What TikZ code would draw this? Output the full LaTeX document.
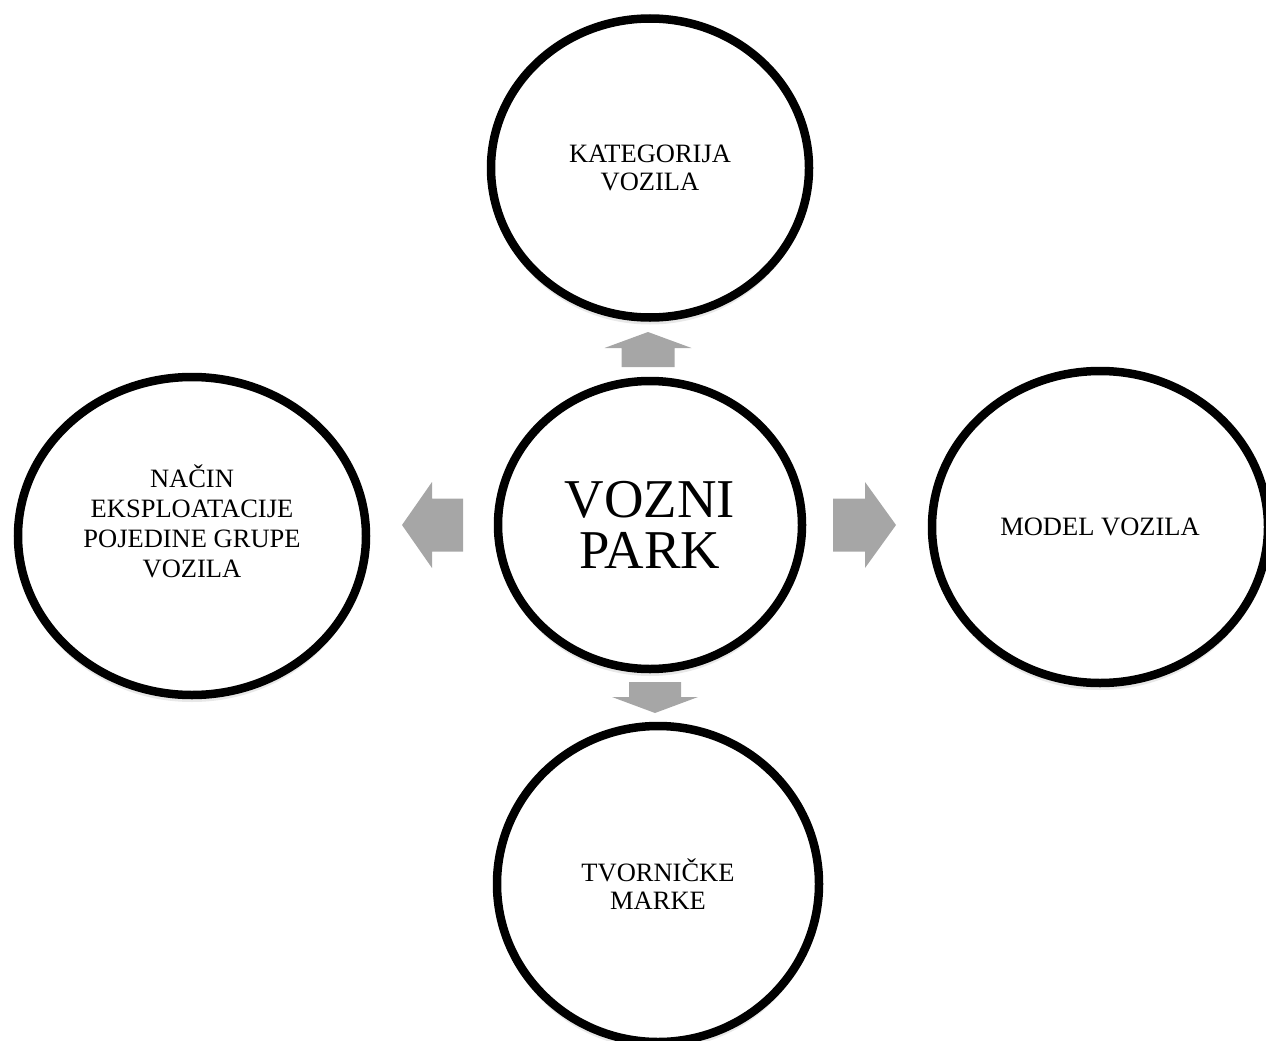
\documentclass[tikz,border=0pt]{standalone}
\usepackage{fontspec}
\setmainfont{Liberation Serif}
\usetikzlibrary{shapes.geometric,shadows}
\definecolor{arrowgray}{HTML}{A6A6A6}
\begin{document}
\begin{tikzpicture}[x=1pt,y=-1pt,
  bubble/.style={ellipse, draw=black, line width=8.5pt, fill=white, inner sep=0pt,
    align=center, font=\fontsize{26.5}{28}\selectfont,
    drop shadow={opacity=0.18, shadow xshift=0pt, shadow yshift=-7pt}},
  labeltext/.style={align=center, inner sep=0pt, font=\fontsize{26.5}{30}\selectfont},
  bigtext/.style={font=\fontsize{54.7}{51}\selectfont},
  arrowfill/.style={fill=arrowgray}]
\useasboundingbox (0,0) rectangle (1266,1041);
\clip (0,0) rectangle (1266,1041);
% ellipses (outer radius = size/2 + 4)
\node[bubble, minimum width=318pt, minimum height=299pt] (top) at (650,168) {KATEGORIJA\\VOZILA};
\node[bubble, minimum width=348pt, minimum height=318pt] (left) at (192,536) {};
\node[labeltext] (lefttext) at (192,521) {NAČIN\\EKSPLOATACIJE\\POJEDINE GRUPE\\VOZILA};
\node[bubble, minimum width=336pt, minimum height=312pt] (right) at (1100,527) {MODEL VOZILA};
\node[bubble, minimum width=322pt, minimum height=316pt] (bottom) at (658,884) {TVORNIČKE\\MARKE};
\node[bubble, bigtext, minimum width=304pt, minimum height=288pt] (center) at (650,525) {VOZNI\\PARK};
% arrows
\fill[arrowfill, shift={(648,332)}] (0,0) -- (43.5,16) -- (26.5,16) -- (26.5,35) -- (-26.5,35) -- (-26.5,16) -- (-43.5,16) -- cycle;
\fill[arrowfill, shift={(655,713)}] (0,0) -- (43,-16) -- (26,-16) -- (26,-31) -- (-26,-31) -- (-26,-16) -- (-43,-16) -- cycle;
\fill[arrowfill, shift={(402,525)}] (0,0) -- (30,-43) -- (30,-26.5) -- (61,-26.5) -- (61,26.5) -- (30,26.5) -- (30,43) -- cycle;
\fill[arrowfill, shift={(896,525)}] (0,0) -- (-31,-43) -- (-31,-26.5) -- (-63,-26.5) -- (-63,26.5) -- (-31,26.5) -- (-31,43) -- cycle;
\end{tikzpicture}
\end{document}
